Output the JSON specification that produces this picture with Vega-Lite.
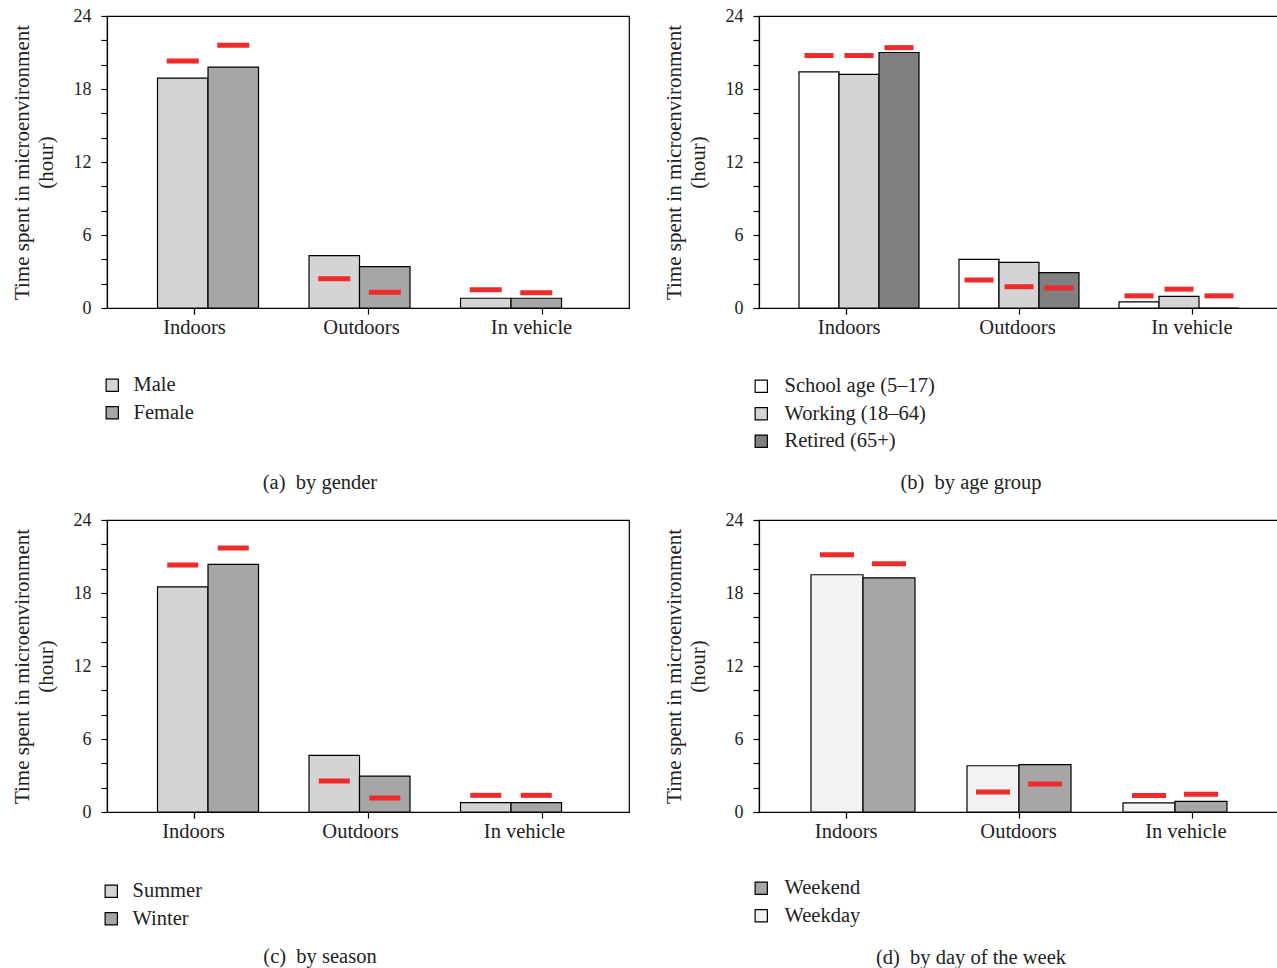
{
  "$schema": "https://vega.github.io/schema/vega-lite/v6.json",
  "background": "white",
  "padding": {"left": 10, "top": 6, "right": 0, "bottom": 0},
  "config": {
    "font": "Liberation Serif",
    "view": {"stroke": "black", "strokeWidth": 1.2},
    "axis": {"grid": false, "domainColor": "black", "tickColor": "black", "labelColor": "#222", "titleColor": "#222", "labelFont": "Liberation Serif", "titleFont": "Liberation Serif", "titleFontWeight": "normal", "domainWidth": 1.2, "tickWidth": 1.2},
    "axisX": {"title": null, "labelAngle": 0, "tickBand": "extent", "tickSize": 6, "labelFontSize": 20.5, "labelPadding": 3},
    "axisY": {"values": [0, 3, 6, 9, 12, 15, 18, 21, 24], "labelExpr": "datum.value % 6 === 0 ? datum.label : ''", "labelOverlap": false, "titleFontSize": 21, "titleLineHeight": 24, "titlePadding": 17, "tickSize": 6, "labelPadding": 10, "labelFontSize": 18},
    "legend": {"labelFont": "Liberation Serif", "labelColor": "#222", "orient": "none", "title": null, "symbolType": "square", "symbolSize": 150, "symbolStrokeColor": "black", "symbolStrokeWidth": 1.2, "labelFontSize": 20.5, "rowPadding": 6.5, "padding": 0},
    "title": {"font": "Liberation Serif", "fontWeight": "normal", "fontSize": 20.5, "color": "#222", "orient": "bottom", "frame": "bounds", "anchor": "middle"}
  },
  "vconcat": [
    {
      "hconcat": [
        {
          "width": 522, "height": 292,
          "title": {"text": "(a)\u00a0\u00a0by gender", "offset": 49},
          "data": {"values": [
            {"cat": "Indoors", "gender": "Male", "bar": "Indoors / Male", "value": 18.9, "ref": 20.3},
            {"cat": "Indoors", "gender": "Female", "bar": "Indoors / Female", "value": 19.8, "ref": 21.6},
            {"cat": "Outdoors", "gender": "Male", "bar": "Outdoors / Male", "value": 4.3, "ref": 2.4},
            {"cat": "Outdoors", "gender": "Female", "bar": "Outdoors / Female", "value": 3.4, "ref": 1.3},
            {"cat": "In vehicle", "gender": "Male", "bar": "In vehicle / Male", "value": 0.8, "ref": 1.5},
            {"cat": "In vehicle", "gender": "Female", "bar": "In vehicle / Female", "value": 0.8, "ref": 1.25}
          ]},
          "layer": [
            {"mark": {"type": "point", "opacity": 0},
             "encoding": {
               "x": {"field": "cat", "type": "nominal", "sort": ["Indoors", "Outdoors", "In vehicle"], "scale": {"paddingInner": 0, "paddingOuter": 0},
                 "axis": {"labelOffset": {"condition": [{"test": "datum.value === 'Outdoors'", "value": -7}, {"test": "datum.value === 'In vehicle'", "value": -11}], "value": 0}}},
               "y": {"field": "value", "type": "quantitative", "scale": {"domain": [0, 24]}, "axis": {"title": ["Time spent in microenvironment", "(hour)"]}}
             }},
            {"encoding": {
               "x": {"field": "bar", "type": "nominal", "sort": null, "axis": null,
                 "scale": {"domain": ["gap 1", "Indoors / Male", "Indoors / Female", "gap 2", "Outdoors / Male", "Outdoors / Female", "gap 3", "In vehicle / Male", "In vehicle / Female", "gap 4"], "paddingInner": 0, "paddingOuter": 0.168, "align": 0}}
             },
             "layer": [
               {"mark": {"type": "bar", "stroke": "black", "strokeWidth": 1.2},
                "encoding": {
                  "y": {"field": "value", "type": "quantitative"},
                  "fill": {"field": "gender", "type": "nominal", "scale": {"domain": ["Male", "Female"], "range": ["#d4d4d4", "#a6a6a6"]},
                    "legend": {"legendX": -5, "legendY": 359, "labelOffset": 11}}
                }},
               {"mark": {"type": "tick", "color": "#ee2a2a", "thickness": 5, "size": 32, "opacity": 1},
                "encoding": {"y": {"field": "ref", "type": "quantitative"}}}
             ]}
          ],
          "resolve": {"scale": {"x": "independent"}}
        },
        {
          "width": 520, "height": 292,
          "title": {"text": "(b)\u00a0\u00a0by age group", "offset": 21},
          "data": {"values": [
            {"cat": "Indoors", "age": "School age (5–17)", "bar": "Indoors / School", "value": 19.4, "ref": 20.75},
            {"cat": "Indoors", "age": "Working (18–64)", "bar": "Indoors / Working", "value": 19.2, "ref": 20.75},
            {"cat": "Indoors", "age": "Retired (65+)", "bar": "Indoors / Retired", "value": 21.0, "ref": 21.4},
            {"cat": "Outdoors", "age": "School age (5–17)", "bar": "Outdoors / School", "value": 4.0, "ref": 2.3},
            {"cat": "Outdoors", "age": "Working (18–64)", "bar": "Outdoors / Working", "value": 3.75, "ref": 1.75},
            {"cat": "Outdoors", "age": "Retired (65+)", "bar": "Outdoors / Retired", "value": 2.9, "ref": 1.65},
            {"cat": "In vehicle", "age": "School age (5–17)", "bar": "In vehicle / School", "value": 0.5, "ref": 1.0},
            {"cat": "In vehicle", "age": "Working (18–64)", "bar": "In vehicle / Working", "value": 0.95, "ref": 1.55},
            {"cat": "In vehicle", "age": "Retired (65+)", "bar": "In vehicle / Retired", "value": 0.0, "ref": 1.0}
          ]},
          "layer": [
            {"mark": {"type": "point", "opacity": 0},
             "encoding": {
               "x": {"field": "cat", "type": "nominal", "sort": ["Indoors", "Outdoors", "In vehicle"], "scale": {"paddingInner": 0, "paddingOuter": 0},
                 "axis": {"labelOffset": {"condition": [{"test": "datum.value === 'Indoors'", "value": 3}, {"test": "datum.value === 'In vehicle'", "value": -1}], "value": -2}}},
               "y": {"field": "value", "type": "quantitative", "scale": {"domain": [0, 24]}, "axis": {"title": ["Time spent in microenvironment", "(hour)"]}}
             }},
            {"encoding": {
               "x": {"field": "bar", "type": "nominal", "sort": null, "axis": null,
                 "scale": {"domain": ["gap 1", "Indoors / School", "Indoors / Working", "Indoors / Retired", "gap 2", "Outdoors / School", "Outdoors / Working", "Outdoors / Retired", "gap 3", "In vehicle / School", "In vehicle / Working", "In vehicle / Retired", "gap 4"], "paddingInner": 0, "paddingOuter": 0, "align": 0}}
             },
             "layer": [
               {"mark": {"type": "bar", "stroke": "black", "strokeWidth": 1.2},
                "encoding": {
                  "y": {"field": "value", "type": "quantitative"},
                  "fill": {"field": "age", "type": "nominal", "scale": {"domain": ["School age (5–17)", "Working (18–64)", "Retired (65+)"], "range": ["#ffffff", "#d4d4d4", "#808080"]},
                    "legend": {"legendX": -8, "legendY": 360, "labelOffset": 13}}
                }},
               {"mark": {"type": "tick", "color": "#ee2a2a", "thickness": 5, "size": 29, "opacity": 1},
                "encoding": {"y": {"field": "ref", "type": "quantitative"}}}
             ]}
          ],
          "resolve": {"scale": {"x": "independent"}}
        }
      ],
      "spacing": 32,
      "resolve": {"scale": {"fill": "independent", "y": "independent"}, "legend": {"fill": "independent"}}
    },
    {
      "hconcat": [
        {
          "width": 522, "height": 292,
          "title": {"text": "(c)\u00a0\u00a0by season", "offset": 17},
          "data": {"values": [
            {"cat": "Indoors", "season": "Summer", "bar": "Indoors / Summer", "value": 18.5, "ref": 20.3},
            {"cat": "Indoors", "season": "Winter", "bar": "Indoors / Winter", "value": 20.35, "ref": 21.7},
            {"cat": "Outdoors", "season": "Summer", "bar": "Outdoors / Summer", "value": 4.65, "ref": 2.55},
            {"cat": "Outdoors", "season": "Winter", "bar": "Outdoors / Winter", "value": 2.95, "ref": 1.15},
            {"cat": "In vehicle", "season": "Summer", "bar": "In vehicle / Summer", "value": 0.77, "ref": 1.37},
            {"cat": "In vehicle", "season": "Winter", "bar": "In vehicle / Winter", "value": 0.77, "ref": 1.37}
          ]},
          "layer": [
            {"mark": {"type": "point", "opacity": 0},
             "encoding": {
               "x": {"field": "cat", "type": "nominal", "sort": ["Indoors", "Outdoors", "In vehicle"], "scale": {"paddingInner": 0, "paddingOuter": 0},
                 "axis": {"labelOffset": {"condition": [{"test": "datum.value === 'Outdoors'", "value": -8}, {"test": "datum.value === 'In vehicle'", "value": -18}], "value": -1}}},
               "y": {"field": "value", "type": "quantitative", "scale": {"domain": [0, 24]}, "axis": {"title": ["Time spent in microenvironment", "(hour)"]}}
             }},
            {"encoding": {
               "x": {"field": "bar", "type": "nominal", "sort": null, "axis": null,
                 "scale": {"domain": ["gap 1", "Indoors / Summer", "Indoors / Winter", "gap 2", "Outdoors / Summer", "Outdoors / Winter", "gap 3", "In vehicle / Summer", "In vehicle / Winter", "gap 4"], "paddingInner": 0, "paddingOuter": 0.168, "align": 0}}
             },
             "layer": [
               {"mark": {"type": "bar", "stroke": "black", "strokeWidth": 1.2},
                "encoding": {
                  "y": {"field": "value", "type": "quantitative"},
                  "fill": {"field": "season", "type": "nominal", "scale": {"domain": ["Summer", "Winter"], "range": ["#d4d4d4", "#a6a6a6"]},
                    "legend": {"legendX": -6, "legendY": 361, "labelOffset": 11}}
                }},
               {"mark": {"type": "tick", "color": "#ee2a2a", "thickness": 5, "size": 31, "opacity": 1},
                "encoding": {"y": {"field": "ref", "type": "quantitative"}}}
             ]}
          ],
          "resolve": {"scale": {"x": "independent"}}
        },
        {
          "width": 520, "height": 292,
          "title": {"text": "(d)\u00a0\u00a0by day of the week", "offset": 21},
          "data": {"values": [
            {"cat": "Indoors", "day": "Weekday", "bar": "Indoors / Weekday", "value": 19.5, "ref": 21.15},
            {"cat": "Indoors", "day": "Weekend", "bar": "Indoors / Weekend", "value": 19.25, "ref": 20.4},
            {"cat": "Outdoors", "day": "Weekday", "bar": "Outdoors / Weekday", "value": 3.8, "ref": 1.65},
            {"cat": "Outdoors", "day": "Weekend", "bar": "Outdoors / Weekend", "value": 3.9, "ref": 2.3},
            {"cat": "In vehicle", "day": "Weekday", "bar": "In vehicle / Weekday", "value": 0.75, "ref": 1.35},
            {"cat": "In vehicle", "day": "Weekend", "bar": "In vehicle / Weekend", "value": 0.87, "ref": 1.45}
          ]},
          "layer": [
            {"mark": {"type": "point", "opacity": 0},
             "encoding": {
               "x": {"field": "cat", "type": "nominal", "sort": ["Indoors", "Outdoors", "In vehicle"], "scale": {"paddingInner": 0, "paddingOuter": 0},
                 "axis": {"labelOffset": {"condition": [{"test": "datum.value === 'Indoors'", "value": 0}, {"test": "datum.value === 'In vehicle'", "value": -7}], "value": -1}}},
               "y": {"field": "value", "type": "quantitative", "scale": {"domain": [0, 24]}, "axis": {"title": ["Time spent in microenvironment", "(hour)"]}}
             }},
            {"encoding": {
               "x": {"field": "bar", "type": "nominal", "sort": null, "axis": null,
                 "scale": {"domain": ["gap 1", "Indoors / Weekday", "Indoors / Weekend", "gap 2", "Outdoors / Weekday", "Outdoors / Weekend", "gap 3", "In vehicle / Weekday", "In vehicle / Weekend", "gap 4"], "paddingInner": 0, "paddingOuter": 0, "align": 0}}
             },
             "layer": [
               {"mark": {"type": "bar", "stroke": "black", "strokeWidth": 1.2},
                "encoding": {
                  "y": {"field": "value", "type": "quantitative"},
                  "fill": {"field": "day", "type": "nominal", "scale": {"domain": ["Weekend", "Weekday"], "range": ["#a6a6a6", "#f2f2f2"]},
                    "legend": {"legendX": -8, "legendY": 358, "labelOffset": 13}}
                }},
               {"mark": {"type": "tick", "color": "#ee2a2a", "thickness": 5, "size": 34, "opacity": 1},
                "encoding": {"y": {"field": "ref", "type": "quantitative"}}}
             ]}
          ],
          "resolve": {"scale": {"x": "independent"}}
        }
      ],
      "spacing": 32,
      "resolve": {"scale": {"fill": "independent", "y": "independent"}, "legend": {"fill": "independent"}}
    }
  ],
  "spacing": 15,
  "resolve": {"scale": {"fill": "independent", "y": "independent"}, "legend": {"fill": "independent"}}
}
